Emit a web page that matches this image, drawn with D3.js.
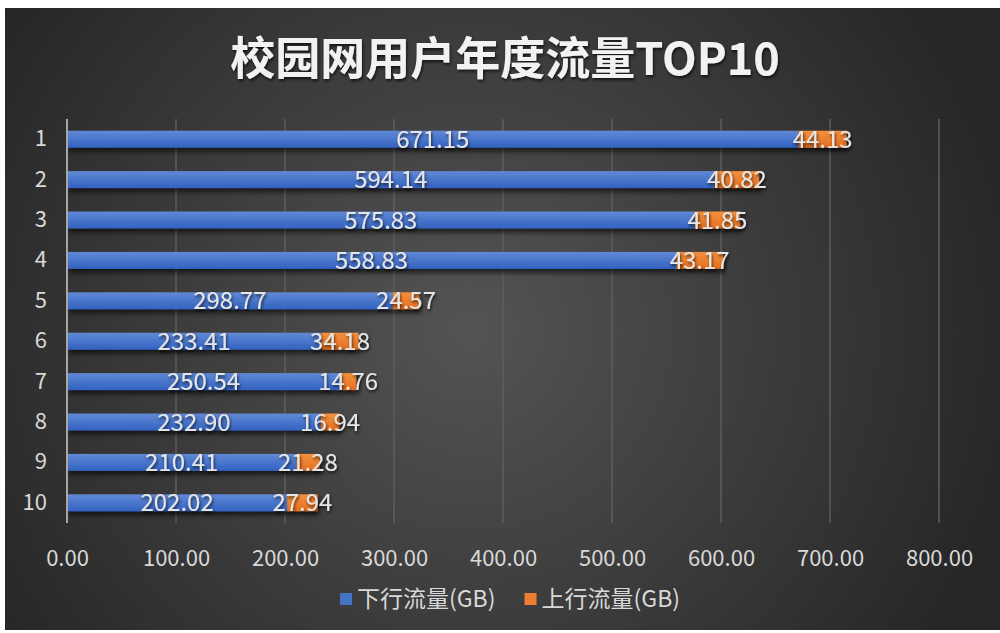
<!DOCTYPE html>
<meta charset='utf-8'>
<style>
    html, body {
        margin: 0;
        padding: 0;
        background: #fff;
    }
    text {
        font-family: 'Noto Sans CJK SC', 'Noto Sans', sans-serif;
    }
</style>
<body>
<div id='chart'></div>
<script src='https://d3js.org/d3.v7.min.js'></script>
<script>
    const ranks = [ '1', '2', '3', '4', '5', '6', '7', '8', '9', '10' ];
    const downFlow = [ 671.15, 594.14, 575.83, 558.83, 298.77, 233.41, 250.54, 232.90, 210.41, 202.02 ];
    const upFlow = [ 44.13, 40.82, 41.85, 43.17, 24.57, 34.18, 14.76, 16.94, 21.28, 27.94 ];
    const xTicks = [ 0, 100, 200, 300, 400, 500, 600, 700, 800 ];
    const seriesNames = [ '下行流量(GB)', '上行流量(GB)' ];
    const titleText = '校园网用户年度流量TOP10';

    const W = 1000, H = 633;
    const margin = { top: 119, left: 67, right: 61, bottom: 110 };
    const width = W - margin.left - margin.right,
        height = H - margin.top - margin.bottom;

    const colors = [ '#4472c4', '#ed7d31' ];

    const svg = d3.select( '#chart' ).append( 'svg' )
        .attr( 'width', W )
        .attr( 'height', H );

    const defs = svg.append( 'defs' );

    let bg = defs.append( 'radialGradient' )
        .attr( 'id', 'bg' )
        .attr( 'gradientUnits', 'userSpaceOnUse' )
        .attr( 'cx', 470 ).attr( 'cy', 330 ).attr( 'r', 560 );
    bg.append( 'stop' ).attr( 'offset', '0%' ).attr( 'stop-color', '#545454' );
    bg.append( 'stop' ).attr( 'offset', '100%' ).attr( 'stop-color', '#262626' );

    // bar fills: lighter top edge
    const barGrad = ( id, top, bottom ) => {
        let g = defs.append( 'linearGradient' )
            .attr( 'id', id )
            .attr( 'x1', 0 ).attr( 'y1', 0 ).attr( 'x2', 0 ).attr( 'y2', 1 );
        g.append( 'stop' ).attr( 'offset', '0%' ).attr( 'stop-color', top );
        g.append( 'stop' ).attr( 'offset', '100%' ).attr( 'stop-color', bottom );
    }
    barGrad( 'gDown', '#6189d6', '#3262c0' );
    barGrad( 'gUp', '#f5913f', '#e56e1f' );

    let shadow = defs.append( 'filter' )
        .attr( 'id', 'shadow' )
        .attr( 'x', '-5%' ).attr( 'y', '-50%' ).attr( 'width', '110%' ).attr( 'height', '250%' );
    shadow.append( 'feDropShadow' )
        .attr( 'dx', 2 ).attr( 'dy', 4 ).attr( 'stdDeviation', 2.5 )
        .attr( 'flood-color', '#000' ).attr( 'flood-opacity', 0.6 );

    let textShadow = defs.append( 'filter' )
        .attr( 'id', 'tshadow' )
        .attr( 'x', '-10%' ).attr( 'y', '-20%' ).attr( 'width', '120%' ).attr( 'height', '150%' );
    textShadow.append( 'feDropShadow' )
        .attr( 'dx', 1 ).attr( 'dy', 2 ).attr( 'stdDeviation', 1.5 )
        .attr( 'flood-color', '#000' ).attr( 'flood-opacity', 0.7 );

    svg.append( 'rect' )
        .attr( 'x', 5 ).attr( 'y', 8 )
        .attr( 'width', W - 5 ).attr( 'height', H - 11 )
        .style( 'fill', 'url(#bg)' );

    // Title
    svg.append( 'text' )
        .attr( 'x', 505 ).attr( 'y', 75 )
        .attr( 'text-anchor', 'middle' )
        .style( 'font-size', '45px' )
        .style( 'font-weight', 'bold' )
        .style( 'fill', '#f2f2f2' )
        .attr( 'filter', 'url(#tshadow)' )
        .text( titleText );

    const g = svg.append( 'g' )
        .attr( 'transform', `translate( ${margin.left}, ${margin.top} )` );

    const xScale = d3.scaleLinear()
        .domain( [ 0, 800 ] )
        .range( [ 0, width ] );
    const yScale = d3.scaleBand()
        .domain( ranks )
        .range( [ 0, height ] )
        .paddingInner( 0.58 )
        .paddingOuter( 0.29 );

    // Gridlines
    g.append( 'g' )
        .selectAll( 'line' )
        .data( xTicks.slice( 1 ) )
        .join( 'line' )
            .attr( 'x1', d => xScale( d ) ).attr( 'x2', d => xScale( d ) )
            .attr( 'y1', 0 ).attr( 'y2', height )
            .style( 'stroke', '#5e5e5e' )
            .style( 'stroke-width', 1.5 );

    // X axis
    const xAxis = d3.axisBottom( xScale )
        .tickValues( xTicks )
        .tickFormat( d3.format( '.2f' ) )
        .tickSize( 0 )
        .tickPadding( 27 );
    const xAxisEl = g.append( 'g' )
        .attr( 'transform', `translate( 0, ${height} )` )
        .call( xAxis );
    xAxisEl.select( '.domain' ).remove();
    xAxisEl.selectAll( 'text' )
        .style( 'font-size', '22px' )
        .style( 'fill', '#d9d9d9' );

    // Y axis
    const yAxis = d3.axisLeft( yScale )
        .tickSize( 0 )
        .tickPadding( 20 );
    const yAxisEl = g.append( 'g' ).call( yAxis );
    yAxisEl.select( '.domain' ).remove();
    yAxisEl.selectAll( 'text' )
        .style( 'font-size', '22px' )
        .style( 'fill', '#d9d9d9' );

    // Bars
    const rows = ranks.map( ( r, i ) => ( { rank: r, down: downFlow[ i ], up: upFlow[ i ] } ) );

    const rowEl = g.append( 'g' )
        .selectAll( 'g' )
        .data( rows )
        .join( 'g' )
            .attr( 'transform', d => `translate( 0, ${yScale( d.rank )} )` );

    rowEl.append( 'g' )
        .attr( 'filter', 'url(#shadow)' )
        .call( sel => {
            sel.append( 'rect' )
                .attr( 'x', 0 ).attr( 'y', 0 )
                .attr( 'width', d => xScale( d.down ) )
                .attr( 'height', yScale.bandwidth() )
                .style( 'fill', 'url(#gDown)' );
            sel.append( 'rect' )
                .attr( 'x', d => xScale( d.down ) ).attr( 'y', 0 )
                .attr( 'width', d => xScale( d.down + d.up ) - xScale( d.down ) )
                .attr( 'height', yScale.bandwidth() )
                .style( 'fill', 'url(#gUp)' );
        } );

    // Axis line on the left
    g.append( 'line' )
        .attr( 'x1', 0 ).attr( 'x2', 0 )
        .attr( 'y1', 0 ).attr( 'y2', height )
        .style( 'stroke', '#a6a6a6' )
        .style( 'stroke-width', 2 );

    // Value labels
    const labelStyle = sel => sel
        .attr( 'y', yScale.bandwidth() / 2 )
        .attr( 'dy', '0.36em' )
        .attr( 'text-anchor', 'middle' )
        .style( 'font-size', '24px' )
        .style( 'fill', '#e6e6e6' )
        .attr( 'filter', 'url(#tshadow)' );

    rowEl.append( 'text' )
        .call( labelStyle )
        .attr( 'x', d => xScale( d.down / 2 ) )
        .text( d => d.down.toFixed( 2 ) );

    rowEl.append( 'text' )
        .call( labelStyle )
        .attr( 'x', d => xScale( d.down + d.up / 2 ) )
        .text( d => d.up.toFixed( 2 ) );

    // Legend
    const legend = svg.append( 'g' )
        .attr( 'transform', 'translate( 340, 593 )' );
    let legendX = 0;
    seriesNames.forEach( ( name, i ) => {
        let item = legend.append( 'g' )
            .attr( 'transform', `translate( ${legendX}, 0 )` );
        item.append( 'rect' )
            .attr( 'width', 12 ).attr( 'height', 12 )
            .style( 'fill', colors[ i ] );
        let t = item.append( 'text' )
            .attr( 'x', 17 ).attr( 'y', 6 )
            .attr( 'dy', '0.36em' )
            .style( 'font-size', '23px' )
            .style( 'fill', '#d9d9d9' )
            .text( name );
        legendX += 17 + t.node().getComputedTextLength() + 29;
    } );
</script>
</body>
